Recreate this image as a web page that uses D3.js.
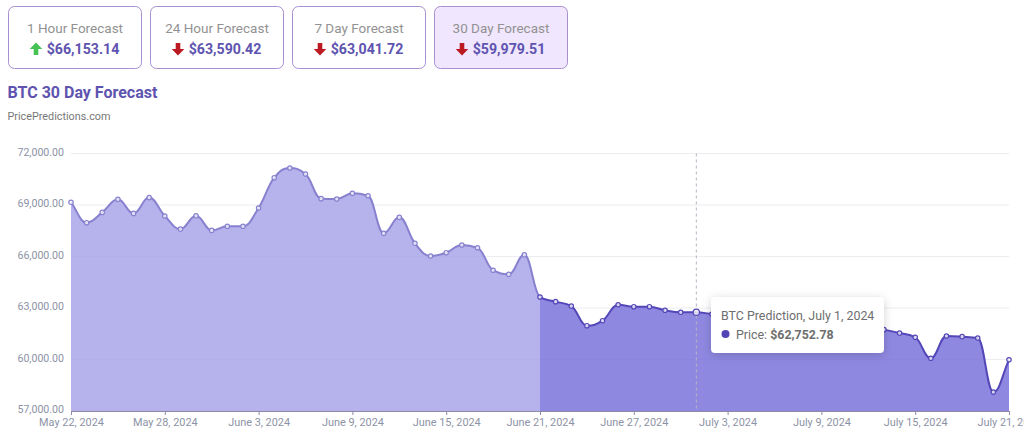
<!DOCTYPE html>
<html>
<head>
<meta charset="utf-8">
<script src="https://cdn.jsdelivr.net/npm/d3@7"></script>
<style>
html, body { margin: 0; padding: 0; background: #fff; overflow: hidden; }
svg { display: block; font-family: Roboto, sans-serif; }
</style>
</head>
<body>
<script>
// Forecast cards
var cardTitles = ["1 Hour Forecast", "24 Hour Forecast", "7 Day Forecast", "30 Day Forecast"];
var cardPrices = ["$66,153.14", "$63,590.42", "$63,041.72", "$59,979.51"];
var cardUp = [true, false, false, false];

// Daily prices, May 22 to July 21 2024 (the stretch under the tooltip is estimated)
var startDate = "2024-05-22";
var prices = [
  69157, 67970, 68570, 69330, 68510, 69430, 68360, 67600, 68370, 67520,
  67760, 67760, 68825, 70590, 71155, 70805, 69370, 69350, 69680, 69540,
  67350, 68280, 66770, 66030, 66220, 66670, 66510, 65200, 64960, 66100,
  63640, 63370, 63115, 61970, 62260, 63190, 63075, 63075, 62865, 62750,
  62752.78, 62650, 62590, 62510, 62440, 62370, 62290, 62210, 62120, 62030,
  61930, 61840, 61740, 61540, 61290, 60070, 61370, 61330, 61250, 58100,
  59979.51
];
var yTicks = [57000, 60000, 63000, 66000, 69000, 72000];
var xTickDays = [0, 6, 12, 18, 24, 30, 36, 42, 48, 54, 60];
var splitDay = 30;   // forecast shading starts June 21
var hoverDay = 40;   // July 1

var width = 1024, height = 434;

var svg = d3.select("body").append("svg")
    .attr("width", width)
    .attr("height", height);

var day0 = d3.isoParse(startDate);
var dayToDate = function(i){ return d3.timeDay.offset(day0, i); };

var x = d3.scaleTime()
    .domain([dayToDate(0), dayToDate(60)])
    .range([71, 1009]);
var y = d3.scaleLinear()
    .domain([57000, 72000])
    .range([411, 153.5]);

var data = prices.map(function(p, i){ return {date: dayToDate(i), price: p, day: i}; });

// Monotone curve like d3's, but with longer handles so the peaks come out rounder
function roundedCurve(context){
  var pts;
  return {
    lineStart: function(){ pts = []; },
    point: function(px, py){ pts.push([px, py]); },
    lineEnd: function(){
      var n = pts.length, m = [], k = 0.42;
      pts.forEach(function(p, i){
        if(i == 0 || i == n - 1){ m.push(null); return; }
        var s0 = (p[1] - pts[i-1][1]) / (p[0] - pts[i-1][0]);
        var s1 = (pts[i+1][1] - p[1]) / (pts[i+1][0] - p[0]);
        m.push(s0 * s1 <= 0 ? 0 : Math.sign(s0) * Math.min(Math.abs(s0), Math.abs(s1), Math.abs(s0 + s1) / 4) * 2);
      });
      m[0] = (pts[1][1] - pts[0][1]) / (pts[1][0] - pts[0][0]);
      m[n-1] = (pts[n-1][1] - pts[n-2][1]) / (pts[n-1][0] - pts[n-2][0]);
      context.moveTo(pts[0][0], pts[0][1]);
      for(var i = 1; i < n; i++){
        var dx = (pts[i][0] - pts[i-1][0]) * k;
        context.bezierCurveTo(pts[i-1][0] + dx, pts[i-1][1] + m[i-1] * dx, pts[i][0] - dx, pts[i][1] - m[i] * dx, pts[i][0], pts[i][1]);
      }
    }
  };
}

// Cards
var cardW = 133, cardGap = 9;
var cards = svg.selectAll(".card")
    .data(cardTitles)
  .enter().append("g")
    .attr("class", "card")
    .attr("transform", function(d, i){ return "translate(" + (8.5 + i * (cardW + cardGap)) + ",6.5)"; });

cards.append("rect")
    .attr("width", cardW)
    .attr("height", 62)
    .attr("rx", 6)
    .attr("fill", function(d, i){ return i == 3 ? "#f0e6fd" : "#fff"; })
    .attr("stroke", "#a78fd0")
    .attr("stroke-width", 1);

cards.append("text")
    .attr("x", cardW / 2)
    .attr("y", 26)
    .attr("text-anchor", "middle")
    .attr("font-size", 13.5)
    .attr("fill", "#929292")
    .text(function(d){ return d; });

cards.append("text")
    .attr("x", cardW / 2 + 8)
    .attr("y", 47.5)
    .attr("text-anchor", "middle")
    .attr("font-size", 14.2)
    .attr("font-weight", 700)
    .attr("fill", "#5e54b0")
    .text(function(d, i){ return cardPrices[i]; });

// Arrow icons, point up then flipped for the red ones
cards.append("path")
    .attr("d", "M0,-6.5 L6.3,0 L2.3,0 L2.3,6 L-2.3,6 L-2.3,0 L-6.3,0 Z")
    .attr("transform", function(d, i){
      return "translate(" + (cardW / 2 - 39) + ",42.5)" + (cardUp[i] ? "" : " scale(1,-1)");
    })
    .attr("fill", function(d, i){ return cardUp[i] ? "#47c255" : "#bb1a22"; });

// Titles
svg.append("text")
    .attr("x", 7.5)
    .attr("y", 98)
    .attr("font-size", 16)
    .attr("font-weight", 700)
    .attr("fill", "#5e54b0")
    .text("BTC 30 Day Forecast");

svg.append("text")
    .attr("x", 7.5)
    .attr("y", 120)
    .attr("font-size", 10.8)
    .attr("fill", "#777")
    .text("PricePredictions.com");

// Grid
svg.append("g").selectAll("line")
    .data(yTicks)
  .enter().append("line")
    .attr("x1", x.range()[0])
    .attr("x2", x.range()[1])
    .attr("y1", function(d){ return y(d); })
    .attr("y2", function(d){ return y(d); })
    .attr("stroke", "#ececf1")
    .attr("stroke-width", 1);

// Clip areas for the two shades
var defs = svg.append("defs");
defs.append("clipPath").attr("id", "before").append("rect")
    .attr("x", 0).attr("y", 0)
    .attr("width", x(dayToDate(splitDay)))
    .attr("height", height);
defs.append("clipPath").attr("id", "after").append("rect")
    .attr("x", x(dayToDate(splitDay))).attr("y", 0)
    .attr("width", width)
    .attr("height", height);

var line = d3.line()
    .x(function(d){ return x(d.date); })
    .y(function(d){ return y(d.price); })
    .curve(roundedCurve);
var linePath = line(data);
var areaPath = linePath + "L" + x.range()[1] + "," + y(57000) + "L" + x.range()[0] + "," + y(57000) + "Z";

var parts = [
  {clip: "before", fill: "#a9a5e8", stroke: "#8781cf"},
  {clip: "after", fill: "#7a73dc", stroke: "#5447b8"}
];
parts.forEach(function(p){
  var g = svg.append("g").attr("clip-path", "url(#" + p.clip + ")");
  g.append("path")
      .attr("d", areaPath)
      .attr("fill", p.fill)
      .attr("fill-opacity", 0.85);
  g.append("path")
      .attr("d", linePath)
      .attr("fill", "none")
      .attr("stroke", p.stroke)
      .attr("stroke-width", 2);
});

// Axes
var yAxis = d3.axisLeft(y)
    .tickValues(yTicks)
    .tickSize(0)
    .tickPadding(7)
    .tickFormat(d3.format(",.2f"));
var yG = svg.append("g")
    .attr("transform", "translate(" + x.range()[0] + ",0)")
    .call(yAxis);
yG.select(".domain").remove();
yG.selectAll("text")
    .attr("y", -1.5)
    .attr("font-family", "Roboto, sans-serif")
    .attr("font-size", 10.6)
    .attr("fill", "#8d93a6");

var xAxis = d3.axisBottom(x)
    .tickValues(xTickDays.map(dayToDate))
    .tickSize(4)
    .tickPadding(3.5)
    .tickFormat(d3.timeFormat("%B %-d, %Y"));
var xG = svg.append("g")
    .attr("transform", "translate(0," + y(57000) + ")")
    .call(xAxis);
xG.select(".domain").attr("stroke", "#8e8aa8").attr("stroke-width", 1);
xG.selectAll("line").attr("stroke", "#8e8aa8");
xG.selectAll("text")
    .attr("font-family", "Roboto, sans-serif")
    .attr("font-size", 10.9)
    .attr("fill", "#8d93a6");

// Crosshair at the hovered day
svg.append("line")
    .attr("x1", x(dayToDate(hoverDay)))
    .attr("x2", x(dayToDate(hoverDay)))
    .attr("y1", y(72000))
    .attr("y2", y(57000))
    .attr("stroke", "#b6b6c4")
    .attr("stroke-dasharray", "3,3");

// Markers
svg.append("g").selectAll("circle")
    .data(data)
  .enter().append("circle")
    .attr("cx", function(d){ return x(d.date); })
    .attr("cy", function(d){ return y(d.price); })
    .attr("r", function(d){ return d.day == hoverDay ? 3.2 : 2.2; })
    .attr("fill", "#fff")
    .attr("fill-opacity", 0.75)
    .attr("stroke", function(d){ return d.day < splitDay ? "#8781cf" : "#5447b8"; })
    .attr("stroke-width", 1.2);

// Tooltip
var shadow = defs.append("filter").attr("id", "shadow")
    .attr("x", "-10%").attr("y", "-20%").attr("width", "120%").attr("height", "150%");
shadow.append("feDropShadow")
    .attr("dx", 0).attr("dy", 2).attr("stdDeviation", 5)
    .attr("flood-color", "#000").attr("flood-opacity", 0.18);

var tip = svg.append("g").attr("transform", "translate(711,297)");
tip.append("rect")
    .attr("width", 173)
    .attr("height", 56)
    .attr("rx", 4)
    .attr("fill", "#fff")
    .attr("filter", "url(#shadow)");
tip.append("text")
    .attr("x", 10)
    .attr("y", 23)
    .attr("font-size", 12.4)
    .attr("fill", "#6e6e6e")
    .text("BTC Prediction, July 1, 2024");
tip.append("circle")
    .attr("cx", 14.5)
    .attr("cy", 37)
    .attr("r", 4)
    .attr("fill", "#5145b5");
var tipText = tip.append("text")
    .attr("x", 25)
    .attr("y", 41.5)
    .attr("font-size", 12.4)
    .attr("fill", "#6e6e6e");
tipText.append("tspan").text("Price: ");
tipText.append("tspan").attr("font-weight", 700).text("$" + d3.format(",.2f")(prices[hoverDay]));
</script>
</body>
</html>
